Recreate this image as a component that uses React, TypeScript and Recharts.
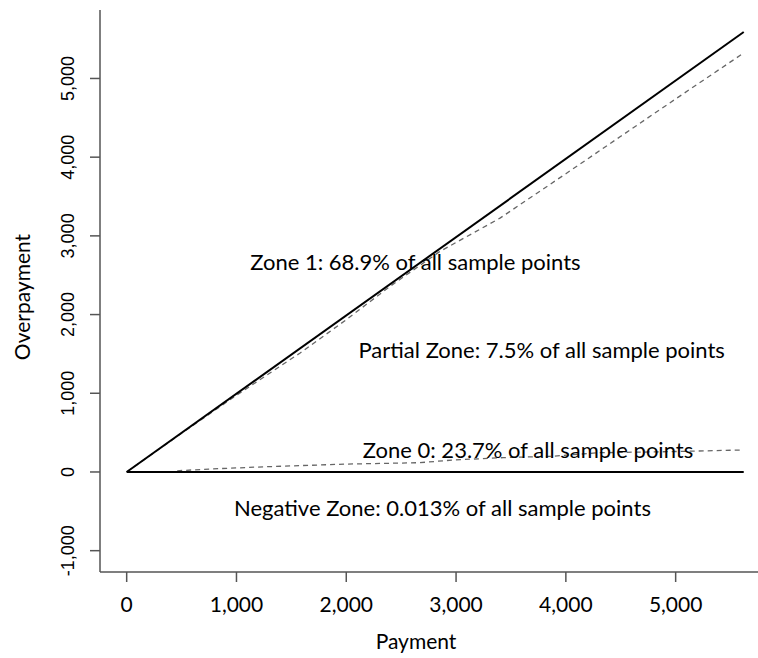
import { LineChart, Line, XAxis, YAxis, ReferenceDot } from 'recharts'

// payment (x) vs overpayment (y)
const fullX = [0, 5620]
const fullY = [0, 5590]
const zeroX = [0, 5620]
const zeroY = [0, 0]
const upperX = [0, 500, 1000, 1580, 2000, 2400, 2850, 3400, 4000, 4500, 5000, 5620]
const upperY = [0, 492, 975, 1512, 1935, 2360, 2800, 3225, 3790, 4265, 4740, 5324]
const lowerX = [460, 760, 1280, 2000, 2670, 2970, 3430, 3880, 4300, 4950, 5620]
const lowerY = [15, 38, 67, 100, 118, 152, 182, 200, 245, 258, 280]

const xTicks = [0, 1000, 2000, 3000, 4000, 5000]
const yTicks = [-1000, 0, 1000, 2000, 3000, 4000, 5000]

const zoneLabels = ['Zone 1: 68.9% of all sample points', 'Partial Zone: 7.5% of all sample points', 'Zone 0: 23.7% of all sample points', 'Negative Zone: 0.013% of all sample points']
const zoneX = [2630, 3780, 3655, 2876]
const zoneY = [2668, 1550, 280, -457]

const toPoints = (xs: number[], ys: number[]) => xs.map((x, i) => ({ x, y: ys[i] }))

const AXIS = '#555'
const fmt = (v: number) => v.toLocaleString('en-US')

const XTick = ({ x, y, payload }: any) => (
  <text x={x} y={y + 30} textAnchor="middle" fontFamily="Lato" fontSize={21} fill="#000">
    {fmt(payload.value)}
  </text>
)

const YTick = ({ x, y, payload }: any) => (
  <text x={x - 16} y={y} transform={`rotate(-90, ${x - 16}, ${y})`} textAnchor="middle" fontFamily="Liberation Sans, Arial" fontSize={18} fill="#000">
    {fmt(payload.value)}
  </text>
)

export default function App() {
  return (
    <div style={{ position: 'absolute', left: 0, top: 0, background: '#fff' }}>
      <LineChart width={758} height={658} margin={{ top: 10, right: 0, bottom: 0, left: 0 }}>
        <XAxis
          type="number"
          dataKey="x"
          domain={[-243, 5750]}
          ticks={xTicks}
          allowDataOverflow
          height={86}
          tickSize={10}
          tickMargin={0}
          stroke={AXIS}
          axisLine={{ stroke: AXIS, strokeWidth: 1.5 }}
          tickLine={{ stroke: AXIS, strokeWidth: 1.5 }}
          tick={<XTick />}
          label={(props: any) => {
            const vb = props.viewBox
            return (
              <text x={vb.x + 316} y={vb.y + 77} textAnchor="middle" fontFamily="Lato" fontSize={21} fill="#000">
                Payment
              </text>
            )
          }}
        />
        <XAxis xAxisId="top" orientation="top" type="number" domain={[-243, 5750]} height={0} tick={false} tickLine={false} axisLine={{ stroke: AXIS, strokeWidth: 1.5 }} />
        <YAxis
          type="number"
          domain={[-1271, 5870]}
          ticks={yTicks}
          allowDataOverflow
          width={100}
          tickSize={10}
          tickMargin={0}
          stroke={AXIS}
          axisLine={{ stroke: AXIS, strokeWidth: 1.5 }}
          tickLine={{ stroke: AXIS, strokeWidth: 1.5 }}
          tick={<YTick />}
          label={(props: any) => {
            const vb = props.viewBox
            const cx = 30
            const cy = vb.y + 287
            return (
              <text x={cx} y={cy} transform={`rotate(-90, ${cx}, ${cy})`} textAnchor="middle" fontFamily="Lato" fontSize={21} fill="#000">
                Overpayment
              </text>
            )
          }}
        />
        <Line data={toPoints(upperX, upperY)} dataKey="y" type="linear" stroke="#666" strokeWidth={1.3} strokeDasharray="5 4" dot={false} activeDot={false} isAnimationActive={false} />
        <Line data={toPoints(lowerX, lowerY)} dataKey="y" type="linear" stroke="#666" strokeWidth={1.3} strokeDasharray="5 4" dot={false} activeDot={false} isAnimationActive={false} />
        <Line data={toPoints(fullX, fullY)} dataKey="y" type="linear" stroke="#000" strokeWidth={2} dot={false} activeDot={false} isAnimationActive={false} />
        <Line data={toPoints(zeroX, zeroY)} dataKey="y" type="linear" stroke="#000" strokeWidth={2} dot={false} activeDot={false} isAnimationActive={false} />
        {zoneLabels.map((text, i) => (
          <ReferenceDot
            key={text}
            x={zoneX[i]}
            y={zoneY[i]}
            r={0}
            fill="none"
            stroke="none"
            label={{ value: text, position: 'center', fontFamily: 'Lato', fontSize: 22, fill: '#000' }}
          />
        ))}
      </LineChart>
    </div>
  )
}
